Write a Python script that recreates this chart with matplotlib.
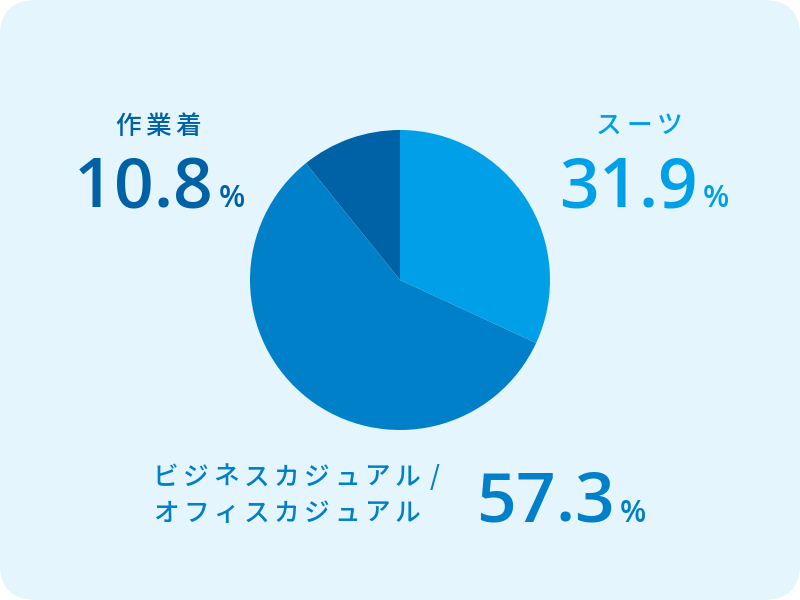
import matplotlib
matplotlib.use('Agg')
import matplotlib.pyplot as plt
from matplotlib.patches import FancyBboxPatch

# 構成比データ (%)
labels = ['スーツ', 'ビジネスカジュアル /', 'オフィスカジュアル', '作業着']
shares = [31.9, 57.3, 10.8]
share_text = ['31.9', '57.3', '10.8']
colors = ['#00A0E8', '#0080C8', '#0062A6']
bg_color = '#E5F5FD'

jp_font = ['Noto Sans CJK JP', 'DejaVu Sans']
num_font = ['Open Sans', 'DejaVu Sans']

fig = plt.figure(figsize=(8, 6), dpi=100)
fig.patch.set_facecolor('white')

# 背景 (角丸)
bg = fig.add_axes([0, 0, 1, 1])
bg.set_xlim(0, 800)
bg.set_ylim(600, 0)
bg.axis('off')
bg.add_patch(FancyBboxPatch((0, 0), 800, 600, boxstyle='round,pad=0,rounding_size=36',
                            fc=bg_color, ec='none'))

# 円グラフ
pie_ax = fig.add_axes([250 / 800, 170 / 600, 300 / 800, 300 / 600])
pie_ax.pie(shares, colors=colors, startangle=90, counterclock=False, radius=1,
           wedgeprops=dict(linewidth=0))
pie_ax.set_xlim(-1, 1)
pie_ax.set_ylim(-1, 1)

renderer = fig.canvas.get_renderer()


# 文字間隔をあけて1文字ずつ置く
def spaced(x, y, s, gap, space=8, **kw):
    for ch in s:
        if ch == ' ':
            x += space
            continue
        t = bg.text(x, y, ch, va='baseline', ha='left', **kw)
        x += t.get_window_extent(renderer).width + gap
    return x


def label(x, y, s, color):
    spaced(x, y, s, 4.5, space=4, fontsize=18.5, color=color, family=jp_font, weight='medium')


def number(x, y, s, color):
    end = spaced(x, y, s, 0, fontsize=50, color=color, family=num_font, weight='semibold')
    bg.text(end + 6, y, '%', va='baseline', ha='left', fontsize=22, color=color,
            family=num_font, weight='semibold')


# 作業着
label(115, 134, labels[3], colors[2])
number(74, 207, share_text[2], colors[2])

# スーツ
label(596, 133, labels[0], colors[0])
number(559, 207, share_text[0], colors[0])

# ビジネスカジュアル / オフィスカジュアル
label(153, 485, labels[1], colors[1])
label(153, 521, labels[2], colors[1])
number(476, 522, share_text[1], colors[1])

fig.savefig('out.png', dpi=100, facecolor='white')
